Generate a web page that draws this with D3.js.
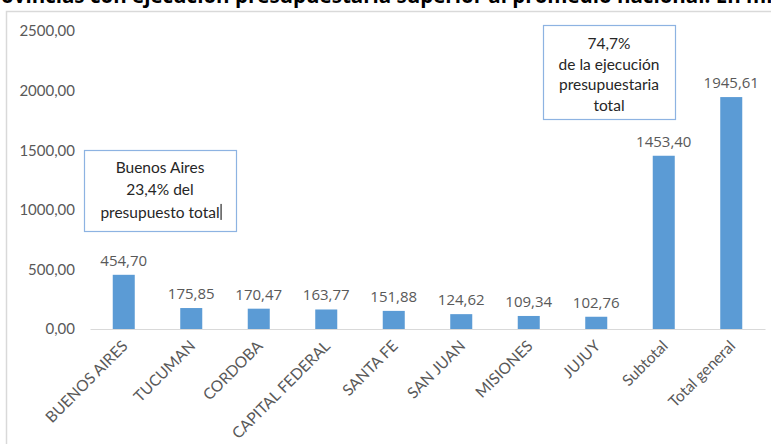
<!DOCTYPE html>
<html><head><meta charset="utf-8">
<script src="https://cdn.jsdelivr.net/npm/d3@7/dist/d3.min.js"></script>
<style>
html,body{margin:0;padding:0;background:#fff;overflow:hidden;}
svg{display:block;}
</style></head>
<body>
<svg id="chart" width="771" height="444"></svg>
<script>
const categories = ["BUENOS AIRES","TUCUMAN","CORDOBA","CAPITAL FEDERAL","SANTA FE","SAN JUAN","MISIONES","JUJUY","Subtotal","Total general"];
const values = [454.70,175.85,170.47,163.77,151.88,124.62,109.34,102.76,1453.40,1945.61];
const yTicks = [0,500,1000,1500,2000,2500];
const titleText = "Provincias con ejecución presupuestaria superior al promedio nacional. En millones de pesos";
const note1 = ["Buenos Aires","23,4% del","presupuesto total"];
const note2 = ["74,7%","de la ejecución","presupuestaria","total"];

const fmt = v => v.toFixed(2).replace(".", ",");
const svg = d3.select("#chart");

// outer chart border
svg.append("rect").attr("x",6.5).attr("y",11.5).attr("width",800).attr("height",500)
  .attr("fill","#fff").attr("stroke","#d9d9d9").attr("stroke-width",1.5);

// title (cut off at top and right edge, as in the reference)
const TF = "Open Sans, sans-serif";
function measure(str, fs){
  const t = svg.append("text").attr("font-family",TF).attr("font-weight","bold").attr("font-size",fs).text(str);
  const w = t.node().getComputedTextLength(); t.remove(); return w;
}
const visiblePart = "ovincias con ejecución presupuestaria superior al promedio nacional. En mi";
const fs = 17 * 772 / measure(visiblePart, 17);
const prW = measure("Pr", fs);
svg.append("text").attr("x", -prW + 1).attr("y",3)
  .attr("font-family",TF).attr("font-weight","bold").attr("font-size",fs)
  .attr("fill","#000").text(titleText);

const x = d3.scaleBand().domain(categories).range([90,765]).paddingInner(0.674).paddingOuter(0.337);
const y = d3.scaleLinear().domain([0,2500]).range([329,31]);

// y axis labels
const yAxis = d3.axisLeft(y).tickValues(yTicks).tickFormat(fmt).tickSize(0).tickPadding(0);
const ya = svg.append("g").attr("transform","translate(75,0)").call(yAxis);
ya.select(".domain").remove();
ya.selectAll("text").attr("font-family","Lato, sans-serif").attr("font-size",15).attr("fill","#595959");

// bars
svg.append("g").selectAll("rect").data(values).join("rect")
  .attr("x",(d,i)=>x(categories[i])).attr("width",x.bandwidth())
  .attr("y",d=>y(d)).attr("height",d=>y(0)-y(d)).attr("fill","#5b9bd5");

// x axis line + labels
const xAxis = d3.axisBottom(x).tickSize(0).tickPadding(0);
const xa = svg.append("g").attr("transform",`translate(0,${y(0)})`).call(xAxis);
xa.select(".domain").attr("stroke","#d9d9d9").attr("stroke-width",1.2);
xa.selectAll("text").attr("font-family","Lato, sans-serif").attr("font-size",15.5).attr("fill","#595959")
  .attr("text-anchor","end").attr("dy",null).attr("y",0)
  .attr("transform","translate(5,18) rotate(-45)");

// data labels
svg.append("g").selectAll("text").data(values).join("text")
  .attr("x",(d,i)=>x(categories[i])+x.bandwidth()/2).attr("y",d=>y(d)-9)
  .attr("text-anchor","middle").attr("font-family","Open Sans, sans-serif").attr("font-size",15)
  .attr("fill","#595959").text(fmt);

// annotation boxes
function note(lines, x0, y0, w, h, cy, lh){
  const g = svg.append("g");
  g.append("rect").attr("x",x0+0.5).attr("y",y0+0.5).attr("width",w).attr("height",h)
    .attr("fill","#fff").attr("stroke","#8db3e2").attr("stroke-width",1.2);
  g.selectAll("text").data(lines).join("text")
    .attr("x",x0+w/2).attr("y",(d,i)=>cy+i*lh).attr("dy","0.35em")
    .attr("text-anchor","middle").attr("font-family","Lato, sans-serif").attr("font-size",15.5)
    .attr("fill","#262626").text(d=>d);
  return g;
}
const n1 = note(note1, 84, 150, 152, 81, 167.5, 22.5);
note(note2, 543, 25, 132, 94, 43.5, 20.7);
// text caret after "presupuesto total"
const lastT = n1.selectAll("text").filter((d,i)=>i===2).node();
const bb = lastT.getBBox();
n1.append("line").attr("x1",bb.x+bb.width+1.5).attr("x2",bb.x+bb.width+1.5)
  .attr("y1",bb.y+1).attr("y2",bb.y+bb.height-1).attr("stroke","#000").attr("stroke-width",1);
</script>
</body></html>
